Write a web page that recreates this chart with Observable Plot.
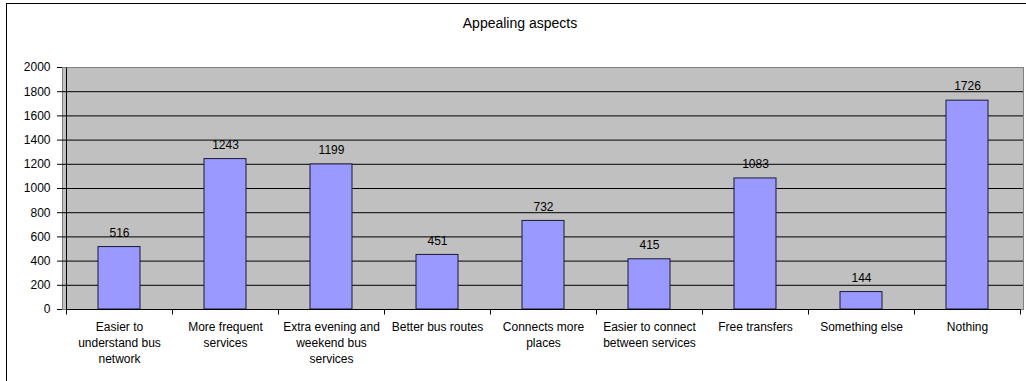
<!DOCTYPE html>
<html>
<head>
<meta charset="utf-8">
<script src="https://cdn.jsdelivr.net/npm/d3@7"></script>
<script src="https://cdn.jsdelivr.net/npm/@observablehq/plot@0.6"></script>
<style>
  html, body { margin: 0; padding: 0; background: #fff; }
  #chart { position: relative; width: 1026px; height: 381px; overflow: hidden; }
  #chart-border {
    position: absolute; left: 6px; top: 3px; width: 1100px; height: 500px;
    border-left: 1px solid #000; border-top: 1px solid #000;
    pointer-events: none; z-index: 2;
  }
  #chart-title {
    position: absolute; left: 0; top: 15px; width: 1040px; text-align: center;
    font: 14px "Liberation Sans", Arial, sans-serif; color: #000; z-index: 3;
  }
  #chart svg { position: absolute; left: 0; top: 0; }
</style>
</head>
<body>
<div id="chart">
  <div id="chart-border"></div>
  <div id="chart-title">Appealing aspects</div>
</div>
<script>
// Survey responses: what respondents found appealing about the proposed network
const categories = [
  "Easier to understand bus network",
  "More frequent services",
  "Extra evening and weekend bus services",
  "Better bus routes",
  "Connects more places",
  "Easier to connect between services",
  "Free transfers",
  "Something else",
  "Nothing"
];
const categoryLabels = [
  "Easier to\nunderstand bus\nnetwork",
  "More frequent\nservices",
  "Extra evening and\nweekend bus\nservices",
  "Better bus routes",
  "Connects more\nplaces",
  "Easier to connect\nbetween services",
  "Free transfers",
  "Something else",
  "Nothing"
];
const counts = [516, 1243, 1199, 451, 732, 415, 1083, 144, 1726];
const yTicks = [0, 200, 400, 600, 800, 1000, 1200, 1400, 1600, 1800, 2000];
const gridValues = [200, 400, 600, 800, 1000, 1200, 1400, 1600, 1800];

const data = categories.map((category, i) => ({
  category,
  label: categoryLabels[i],
  count: counts[i]
}));

// Left axis line, baseline and the small ticks between categories
function axisLines(index, scales) {
  const {x, y} = scales;
  const step = x(categories[1]) - x(categories[0]);
  const x0 = x(categories[0]);
  const x1 = x0 + step * categories.length;
  const y0 = y(0);
  const yTop = y(yTicks[yTicks.length - 1]);
  const g = d3.create("svg:g")
    .attr("stroke", "#000")
    .attr("stroke-width", 1)
    .attr("transform", "translate(0.5,0.5)");
  g.append("line").attr("x1", x0).attr("x2", x0).attr("y1", yTop).attr("y2", y0);
  g.append("line").attr("x1", x0).attr("x2", x1).attr("y1", y0).attr("y2", y0);
  for (let i = 0; i <= categories.length; ++i) {
    const xi = Math.round(x0 + i * step);
    g.append("line").attr("x1", xi).attr("x2", xi).attr("y1", y0).attr("y2", y0 + 5);
  }
  return g.node();
}

const plot = Plot.plot({
  width: 1026,
  height: 381,
  marginLeft: 62,
  marginRight: 3,
  marginTop: 67,
  marginBottom: 72,
  style: {
    fontFamily: "'Liberation Sans', Arial, sans-serif",
    fontSize: "12px",
    color: "#000",
    background: "transparent"
  },
  x: {domain: categories, padding: 0, axis: null},
  y: {domain: [0, 2000], ticks: yTicks},
  marks: [
    Plot.frame({fill: "#C0C0C0", stroke: "#808080"}),
    Plot.ruleY(gridValues, {stroke: "#000", strokeWidth: 1}),
    Plot.barY(data, {
      x: "category",
      y: "count",
      fill: "#9999FF",
      stroke: "#1a1a33",
      strokeWidth: 1,
      insetLeft: 32,
      insetRight: 32
    }),
    axisLines,
    Plot.axisY({
      ticks: yTicks,
      tickFormat: d => String(d),
      tickSize: 5,
      tickPadding: 7,
      fontSize: 12,
      stroke: "#000",
      label: null
    }),
    Plot.text(data, {
      x: "category",
      y: "count",
      text: d => String(d.count),
      dy: -14,
      fontSize: 12,
      fill: "#000"
    }),
    Plot.text(data, {
      x: "category",
      text: "label",
      frameAnchor: "bottom",
      lineAnchor: "top",
      lineHeight: 1.33,
      dy: 10,
      fontSize: 12,
      fill: "#000"
    })
  ]
});

document.getElementById("chart").appendChild(plot);
</script>
</body>
</html>
